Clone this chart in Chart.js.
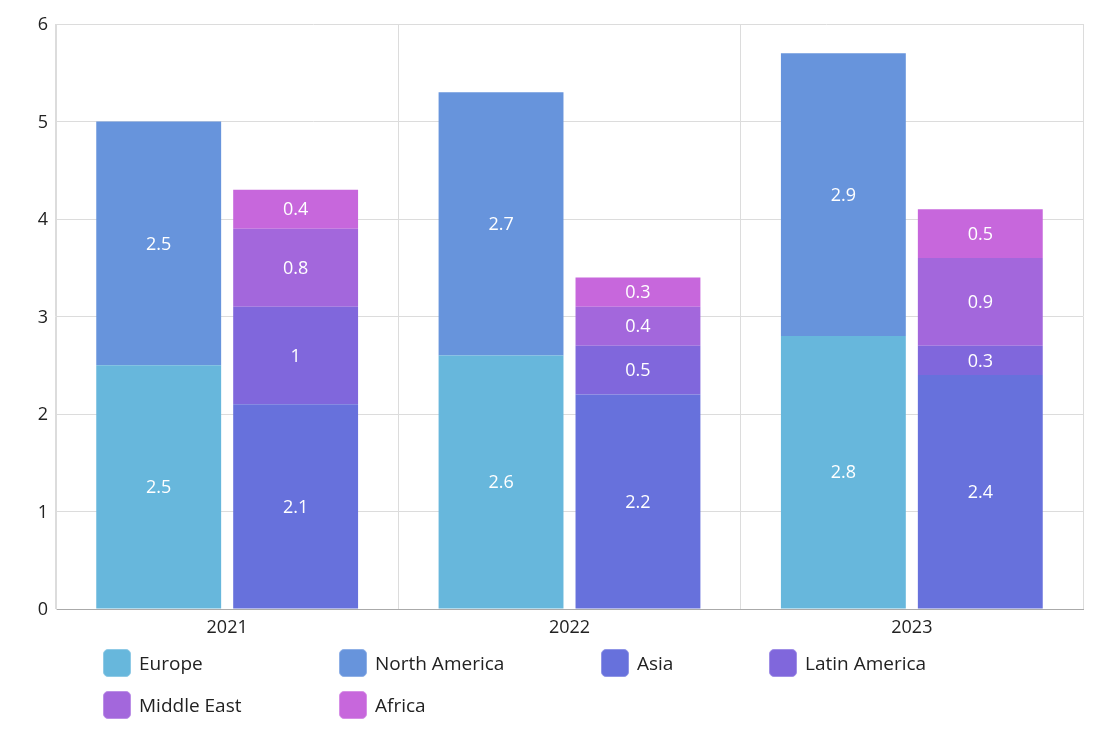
<!DOCTYPE html>
<html>
<head>
<meta charset="utf-8">
<script src="https://cdn.jsdelivr.net/npm/chart.js@4/dist/chart.umd.min.js"></script>
<style>
  html, body { margin: 0; padding: 0; background: #fff; }
  #wrap { position: relative; width: 1113px; height: 750px; }
  #c { position: absolute; left: 0; top: 0; }
  #legend {
    position: absolute; left: 103px; top: 649px;
    display: grid; grid-template-columns: 236px 262px 168px auto;
    row-gap: 14px;
    font-family: "Open Sans", "Noto Sans", sans-serif; font-size: 19px; color: #222;
  }
  .item { display: flex; align-items: center; height: 28px; white-space: nowrap; }
  .sw { width: 28px; height: 28px; border-radius: 5px; margin-right: 8px; box-sizing: border-box; }
</style>
</head>
<body>
<div id="wrap">
  <canvas id="c" width="1113" height="750"></canvas>
  <div id="legend"></div>
</div>
<script>
const categories = ["2021", "2022", "2023"];
const seriesNames = ["Europe", "North America", "Asia", "Latin America", "Middle East", "Africa"];
const europe = [2.5, 2.6, 2.8];
const northAmerica = [2.5, 2.7, 2.9];
const asia = [2.1, 2.2, 2.4];
const latinAmerica = [1, 0.5, 0.3];
const middleEast = [0.8, 0.4, 0.9];
const africa = [0.4, 0.3, 0.5];
const yTicks = [0, 1, 2, 3, 4, 5, 6];

const colors = ["#67b7dc", "#6794dc", "#6771dc", "#8067dc", "#a367dc", "#c767dc"];
const borders = ["#8fcae6", "#8fb0e6", "#8f95e6", "#a08fe6", "#bb8fe6", "#d68fe6"];
const values = [europe, northAmerica, asia, latinAmerica, middleEast, africa];
const stacks = ["a", "a", "b", "b", "b", "b"];

const FONT = '"Open Sans", "Noto Sans", sans-serif';
Chart.defaults.font.family = FONT;

const datasets = seriesNames.map((n, i) => ({
  label: n,
  data: values[i],
  stack: stacks[i],
  backgroundColor: colors[i],
  borderWidth: 0,
  categoryPercentage: 0.8,
  barPercentage: 0.912
}));

const labelPlugin = {
  id: 'segLabels',
  afterDatasetsDraw(chart) {
    const ctx = chart.ctx;
    ctx.save();
    ctx.fillStyle = '#ffffff';
    ctx.font = '18px ' + FONT;
    ctx.textAlign = 'center';
    ctx.textBaseline = 'middle';
    chart.data.datasets.forEach((ds, di) => {
      const meta = chart.getDatasetMeta(di);
      if (meta.hidden) return;
      meta.data.forEach((el, j) => {
        const v = ds.data[j];
        const p = el.getProps(['x', 'y', 'base'], true);
        ctx.fillText(String(v), p.x, (p.y + p.base) / 2 + 1);
      });
    });
    ctx.restore();
  }
};

new Chart(document.getElementById('c'), {
  type: 'bar',
  data: { labels: categories, datasets },
  options: {
    responsive: false,
    animation: false,
    layout: { padding: { left: 0, right: 30, top: 24, bottom: 101 } },
    plugins: { legend: { display: false }, tooltip: { enabled: false } },
    scales: {
      x: {
        stacked: true,
        offset: true,
        grid: { offset: true, color: '#dcdcdc', drawTicks: false },
        border: { color: '#aaaaaa' },
        ticks: { color: '#222', font: { size: 18 }, padding: 8 },
        afterFit(s) { s.height = 40; }
      },
      y: {
        stacked: true,
        min: 0, max: 6,
        afterBuildTicks(s) { s.ticks = yTicks.map(v => ({ value: v })); },
        grid: { color: '#dcdcdc', drawTicks: false },
        border: { color: '#dcdcdc' },
        ticks: { color: '#222', font: { size: 18 }, padding: 8, labelOffset: 1 },
        afterFit(s) { s.width = 56; }
      }
    }
  },
  plugins: [labelPlugin]
});

const leg = document.getElementById('legend');
seriesNames.forEach((n, i) => {
  const it = document.createElement('div');
  it.className = 'item';
  const sw = document.createElement('span');
  sw.className = 'sw';
  sw.style.background = colors[i];
  sw.style.border = '1px solid ' + borders[i];
  const t = document.createElement('span');
  t.textContent = n;
  it.appendChild(sw); it.appendChild(t);
  leg.appendChild(it);
});
</script>
</body>
</html>
